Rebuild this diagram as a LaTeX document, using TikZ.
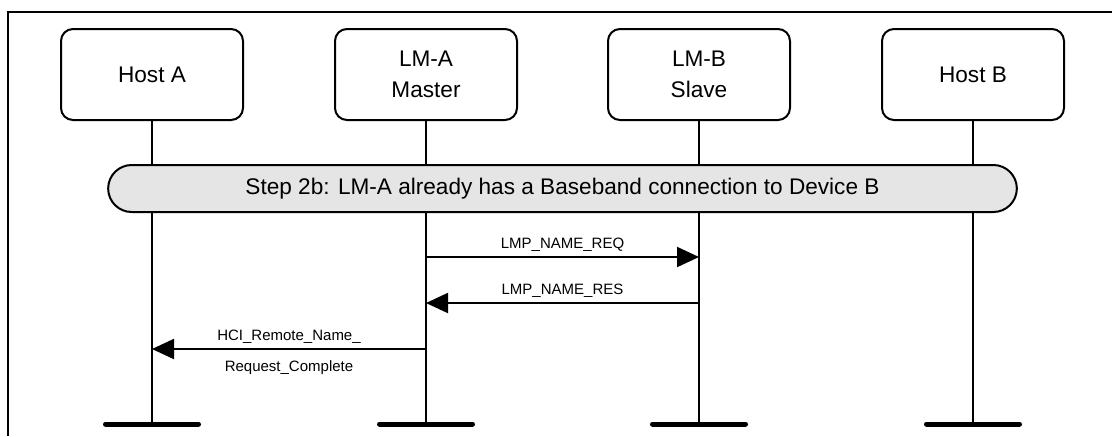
\documentclass[tikz,border=0pt]{standalone}
\usepackage{fontspec}
\setmainfont{Liberation Sans}
\usetikzlibrary{arrows.meta, shapes.misc, positioning}

\begin{document}
\begin{tikzpicture}[
  x=0.5pt, y=-0.5pt,
  entity/.style={
    rectangle, rounded corners=6pt,
    draw, line width=1pt,
    minimum width=91pt, minimum height=45.5pt,
    align=center, font=\fontsize{11.3}{15.5}\selectfont
  },
  phase/.style={
    rounded rectangle, draw, line width=1pt, fill=gray!20,
    minimum width=461pt, minimum height=23.5pt,
    font=\fontsize{11.3}{13}\selectfont
  },
  lifeline/.style={line width=1pt},
  groundbar/.style={line width=2.5pt, line cap=round},
  msg/.style={-{Triangle[length=11pt, width=10pt]}, line width=1pt},
  msglabel/.style={font=\fontsize{7.5}{9}\selectfont, inner sep=2.5pt}
]
\useasboundingbox (0,0) rectangle (1112,436);

%% --- frame ---
\draw[line width=1pt] (8,436) -- (8,12) -- (1112,12);

%% --- entities ---
\node[entity] (hostA) at (152,74.5) {Host A};
\node[entity] (lmA)   at (426,74.5) {LM-A\\Master};
\node[entity] (lmB)   at (699,74.5) {LM-B\\Slave};
\node[entity] (hostB) at (973,74.5) {Host B};

%% --- lifelines ---
\foreach \e/\x in {hostA/152, lmA/426, lmB/699, hostB/973} {
  \coordinate (\e end) at (\x,424);
  \draw[lifeline] (\e) -- (\e end);
  \draw[groundbar] ([xshift=-23.25pt]\e end) -- ([xshift=23.25pt]\e end);
}

%% --- step bar ---
\node[phase] (step) at (562.5,188.5)
  {Step 2b: LM-A already has a Baseband connection to Device B};

%% --- messages ---
\coordinate (req a) at (426,257);  \coordinate (req b) at (699,257);
\coordinate (res a) at (699,303);  \coordinate (res b) at (426,303);
\coordinate (hci a) at (426,349);  \coordinate (hci b) at (152,349);

\draw[msg] (req a) -- (req b) node[midway, above, msglabel] {LMP\_NAME\_REQ};
\draw[msg] (res a) -- (res b) node[midway, above, msglabel] {LMP\_NAME\_RES};
\draw[msg] (hci a) -- (hci b)
  node[midway, above, msglabel] {HCI\_Remote\_Name\_}
  node[midway, below, msglabel, yshift=-3pt] {Request\_Complete};

\end{tikzpicture}
\end{document}
